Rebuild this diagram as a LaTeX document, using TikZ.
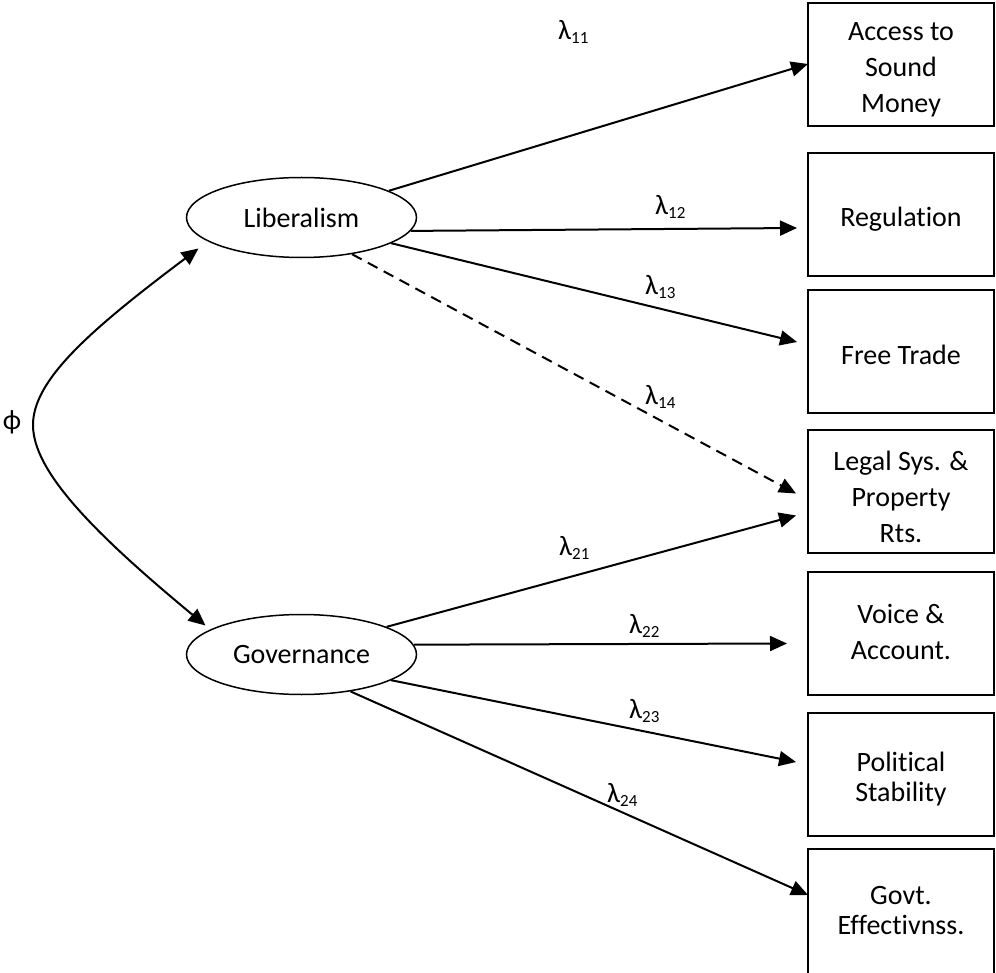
\documentclass[tikz,border=0pt]{standalone}
\usepackage{fontspec}
\setmainfont{Carlito}[Ligatures=CommonOff]
\usetikzlibrary{shapes.geometric,arrows.meta,calc}
\newcommand\lamlab[1]{λ\raisebox{-4pt}{\fontsize{17}{17}\selectfont #1}}
% lines of a box, set down by #1 without changing the box size
\newcommand\boxlines[2]{\raisebox{-#1}[\height][\depth]{\begin{tabular}{@{}c@{}}#2\end{tabular}}}
\begin{document}
\begin{tikzpicture}[x=1pt,y=-1pt,
  every node/.style={font=\fontsize{28}{36}\selectfont},
  latent/.style={ellipse,draw,line width=1.5pt,minimum width=230pt,minimum height=80pt,inner sep=0pt},
  obs/.style={draw,line width=2pt,minimum width=186pt,minimum height=123pt,inner sep=0pt},
  tight/.style={font=\fontsize{28}{30}\selectfont},
  link/.style={line width=2pt,-{Triangle[length=17pt,width=15pt]}},
  dlink/.style={link,dash pattern=on 11pt off 7pt},
  lbl/.style={anchor=base west,inner sep=0pt}
]
\useasboundingbox (0,0) rectangle (996,973);

% latent variables
\node[latent] (lib) at (301.5,217.5) {Liberalism};
\node[latent] (gov) at (301.5,654.5) {Governance};

% observed indicators
\node[obs] (b1) at (901,64.5) {\boxlines{5pt}{Access to\\Sound\\Money}};
\node[obs] (b2) at (901,214.5) {\boxlines{5pt}{Regulation}};
\node[obs] (b3) at (901,351.5) {\boxlines{6pt}{Free Trade}};
\node[obs] (b4) at (901,491) {\boxlines{8pt}{Legal Sys. \&\\Property\\Rts.}};
\node[obs] (b5) at (901,633) {\boxlines{1.5pt}{Voice \&\\Account.}};
\node[obs,tight] (b6) at (901,774.5) {\boxlines{6pt}{Political\\Stability}};
\node[obs,tight,minimum height=128pt] (b7) at (901,913) {\boxlines{0pt}{Govt.\\Effectivnss.}};

% loadings
\draw[link] (lib.17.7) -- ($(b1.north west)+(1,62)$);
\draw[link] (lib.-7.4) -- ($(b2.north west)+(-10,76)$);
\draw[link] (lib.-16.4) -- ($(b3.north west)+(-10,53)$);
\draw[dlink] (lib.-36.5) -- ($(b4.north west)+(-11,65)$);
\draw[link] (gov.18.1) -- ($(b4.north west)+(-11,87)$);
\draw[link] (gov.5) -- ($(b5.north west)+(-20,73)$);
\draw[link] (gov.-16) -- ($(b6.north west)+(-11,50)$);
\draw[link] (gov.-37.5) -- ($(b7.north west)+(1,47)$);

% correlation
\draw[line width=2pt,{Triangle[length=17pt,width=15pt]}-{Triangle[length=17pt,width=15pt]}]
  ($(lib.center)+(-103,31)$) .. controls (90,330) and (33,380) .. (33,425)
  .. controls (33,470) and (90,530) .. ($(gov.center)+(-96,-29)$);

% labels
\node[inner sep=0pt] (phi) at (12,422) {ϕ};
\node[lbl] (l11) at (558,40) {\lamlab{11}};
\node[lbl] (l12) at (655,215) {\lamlab{12}};
\node[lbl] (l13) at (645,295) {\lamlab{13}};
\node[lbl] (l14) at (645,405) {\lamlab{14}};
\node[lbl] (l21) at (559,555) {\lamlab{21}};
\node[lbl] (l22) at (629,633) {\lamlab{22}};
\node[lbl] (l23) at (629,718) {\lamlab{23}};
\node[lbl] (l24) at (607,802) {\lamlab{24}};
\end{tikzpicture}
\end{document}
